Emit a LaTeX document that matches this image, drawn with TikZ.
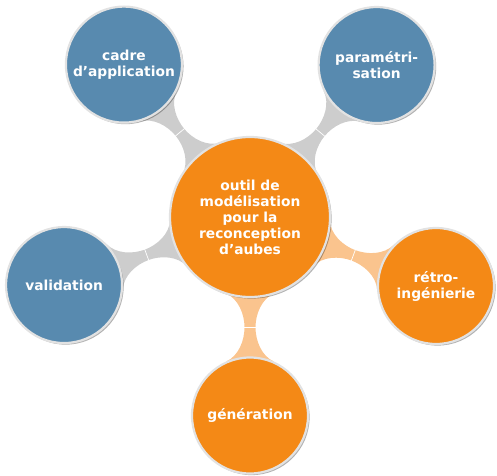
\documentclass[tikz,border=0pt]{standalone}
\usepackage{fontspec}
\setmainfont{DejaVu Sans}
\usetikzlibrary{shadows,backgrounds}
\definecolor{cblue}{RGB}{88,138,175}
\definecolor{corange}{RGB}{244,137,22}
\definecolor{cgrey}{RGB}{205,205,205}
\definecolor{clorange}{RGB}{250,196,142}
\definecolor{crim}{RGB}{226,226,226}
% #1 angle, #2 centre distance, #3 colour
\newcommand\neckpath[3]{%
 \begin{scope}[shift={(c0.center)}, rotate=#1]
 \fill[#3] (18:80) .. controls (81.3,11.7) and ({(22+#2)/2-13},5.5) .. ({(22+#2)/2},5.5)
   .. controls ({(22+#2)/2+13},5.5) and ({#2-59.6},11.2) .. ({#2-53.9},24)
   -- ({#2-53.9},-24) .. controls ({#2-59.6},-11.2) and ({(22+#2)/2+13},-5.5) .. ({(22+#2)/2},-5.5)
   .. controls ({(22+#2)/2-13},-5.5) and (81.3,-11.7) .. (-18:80) -- cycle;
 \draw[white, line width=0.7pt] ({(22+#2)/2},6) -- ({(22+#2)/2},-6);
 \end{scope}}
\begin{document}
\begin{tikzpicture}[x=1pt,y=1pt,
  circ/.style={circle, draw=crim, line width=2.2pt, text=white,
    font=\bfseries\fontsize{13.8}{16}\selectfont, align=center, inner sep=0pt,
    drop shadow={shadow xshift=1.6pt, shadow yshift=-1.6pt, fill=black, opacity=0.3}},
  outerb/.style={circ, fill=cblue, minimum size=116pt},
  outero/.style={circ, fill=corange, minimum size=116pt},
  hub/.style={circ, fill=corange, minimum size=160pt}]
\useasboundingbox (0,0) rectangle (497,475);
\node[hub] (c0) at (250,258) {outil de\\modélisation\\pour la\\reconception\\d’aubes};
\node[outerb] (cadre) at ([shift={(129.6:197.8)}]c0.center) {cadre\\d’application};
\node[outerb] (param) at ([shift={(50.2:197.8)}]c0.center) {paramétri-\\sation};
\node[outerb] (valid) at ([shift={(200.1:198)}]c0.center) {validation};
\node[outero] (retro) at ([shift={(-20.35:198.4)}]c0.center) {rétro-\\ingénierie};
\node[outero] (gen) at ([shift={(-90:198.5)}]c0.center) {génération};
\begin{pgfonlayer}{background}
\neckpath{129.6}{197.8}{cgrey}
\neckpath{50.2}{197.8}{cgrey}
\neckpath{200.1}{198}{cgrey}
\neckpath{-20.35}{198.4}{clorange}
\neckpath{-90}{198.5}{clorange}
\end{pgfonlayer}
\end{tikzpicture}
\end{document}
